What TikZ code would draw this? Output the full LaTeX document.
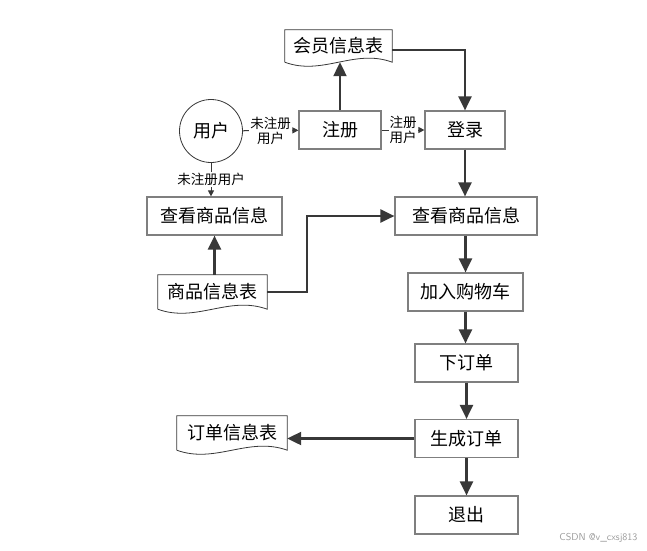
\documentclass[tikz,border=0pt]{standalone}
\usepackage{fontspec}
\usepackage{tikz}
\usepackage{xcolor}
\usetikzlibrary{calc,arrows.meta}
\newfontfamily\cjk{Noto Sans CJK SC}
\definecolor{linecolor}{HTML}{383838}
\definecolor{boxcolor}{HTML}{7F7F7F}
\definecolor{markcolor}{HTML}{9A9A9A}
\tikzstyle{procbox} =[
    draw=boxcolor,
    line width=1.2pt,
    rectangle,
    minimum height=38,
    font=\cjk\fontsize{18}{20}\selectfont
    ]
\tikzstyle{docnode} =[
    rectangle,
    inner sep=0pt,
    font=\cjk\fontsize{18}{20}\selectfont
    ]
\tikzstyle{docline} =[draw=linecolor, line width=0.8pt]
\tikzstyle{flow} =[draw=linecolor, line width=2.2pt, -{Triangle[length=14pt,width=13pt]}]
\tikzstyle{thinflow} =[draw=linecolor, line width=1pt, -{Triangle[length=6pt,width=6pt]}]
\tikzstyle{lbl} =[fill=white, inner sep=1pt, align=center, font=\cjk\fontsize{13.5}{15}\selectfont]
\newcommand{\docshape}[1]{% wavy document outline
\draw[docline] (#1.south west) -- (#1.north west) -- (#1.north east) -- (#1.south east)
    .. controls ($(#1.south east)!0.35!(#1.south west)+(0,-14)$)
    and ($(#1.south east)!0.65!(#1.south west)+(0,14)$) .. (#1.south west);}

\begin{document}
\begin{tikzpicture}[x=1pt,y=-1pt]
\useasboundingbox (0,0) rectangle (647,550);

% data stores
\node[docnode, minimum width=107, minimum height=32] (member) at (338.5,46) {会员信息表};
\docshape{member}
\node[docnode, minimum width=109, minimum height=34] (goods) at (212.5,292) {商品信息表};
\docshape{goods}
\node[docnode, minimum width=110, minimum height=34] (orders) at (232,433) {订单信息表};
\docshape{orders}

% user and processes
\node[circle, draw=linecolor, line width=0.8pt, minimum size=63,
      font=\cjk\fontsize{18}{20}\selectfont] (user) at (211,131) {用户};
\node[procbox, minimum width=82] (register) at (340,130) {注册};
\node[procbox, minimum width=80] (login) at (465,130) {登录};
\node[procbox, minimum width=135] (viewleft) at (214.5,216) {查看商品信息};
\node[procbox, minimum width=142] (viewright) at (466,216) {查看商品信息};
\node[procbox, minimum width=115] (cart) at (465.5,292) {加入购物车};
\node[procbox, minimum width=103] (order) at (466.5,363) {下订单};
\node[procbox, minimum width=103] (create) at (466.5,438.5) {生成订单};
\node[procbox, minimum width=103] (quit) at (466.5,515) {退出};

% connectors
\draw[thinflow] (user) -- node[lbl] {未注册\\用户} (register);
\draw[thinflow] (register) -- node[lbl] {注册\\用户} (login);
\draw[thinflow] (user.south) -- node[lbl] {未注册用户} (user.south |- viewleft.north);
\draw[flow] (register.north) -- (register.north |- member.south);
\draw[flow] ($(member.east)+(0,4)$) -| (login.north);
\draw[flow] (login.south) -- (login.south |- viewright.north);
\draw[flow] (viewleft.south |- goods.north) -- (viewleft.south);
\draw[flow] (goods.east) -- ++(40,0) |- (viewright.west);
\draw[flow] (viewright.south -| cart.north) -- (cart.north);
\draw[flow] (cart.south) -- (cart.south |- order.north);
\draw[flow] (order.south) -- (create.north);
\draw[flow] (create.west) -- (create.west -| orders.east);
\draw[flow] (create.south) -- (quit.north);

\node[text=markcolor, font=\sffamily\fontsize{10}{12}\selectfont, anchor=east] (mark) at (641,538) {CSDN @v\_cxsj813};
\end{tikzpicture}
\end{document}
